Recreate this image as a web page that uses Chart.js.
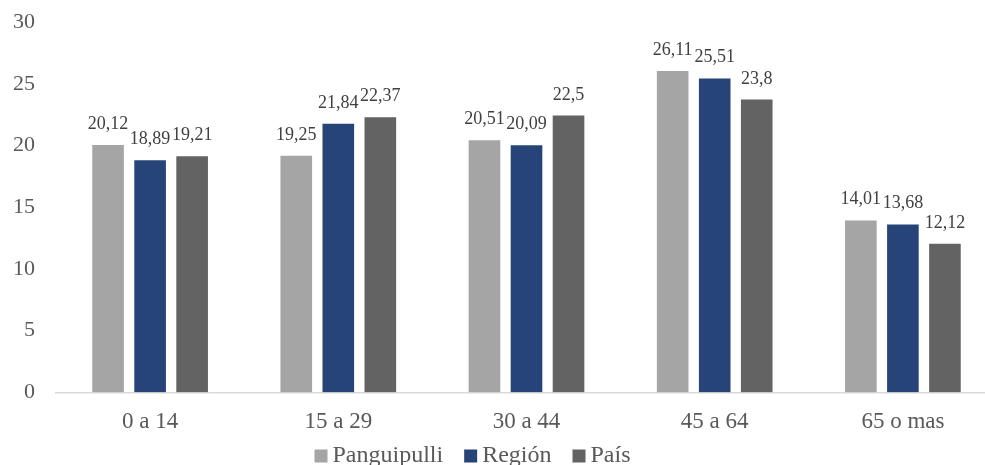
<!DOCTYPE html>
<html>
<head>
<meta charset="utf-8">
<script src="https://cdn.jsdelivr.net/npm/chart.js@4"></script>
<style>
  html, body { margin: 0; padding: 0; background: #ffffff; overflow: hidden; }
  #wrap { position: relative; width: 1000px; height: 465px; }
</style>
</head>
<body>
<div id="wrap"><canvas id="c" width="1000" height="465"></canvas></div>
<script>
// Age groups and population share (%) per territory
const categories = ['0 a 14', '15 a 29', '30 a 44', '45 a 64', '65 o mas'];
const panguipulli = [20.12, 19.25, 20.51, 26.11, 14.01];
const region = [18.89, 21.84, 20.09, 25.51, 13.68];
const pais = [19.21, 22.37, 22.5, 23.8, 12.12];
const seriesNames = ['Panguipulli', 'Región', 'País'];
const seriesColors = ['#A5A5A5', '#264478', '#636363'];
const yTicks = [0, 5, 10, 15, 20, 25, 30];

const FONT = '"Liberation Serif", "Times New Roman", serif';
const TEXT = '#595959';

// Value labels above each bar, with a decimal comma
const valueLabels = {
  id: 'valueLabels',
  afterDatasetsDraw(chart) {
    const ctx = chart.ctx;
    ctx.save();
    ctx.font = '18px ' + FONT;
    ctx.fillStyle = '#404040';
    ctx.textAlign = 'center';
    ctx.textBaseline = 'alphabetic';
    chart.data.datasets.forEach((ds, i) => {
      chart.getDatasetMeta(i).data.forEach((bar, j) => {
        const txt = String(ds.data[j]).replace('.', ',');
        ctx.fillText(txt, bar.x, bar.y - 15);
      });
    });
    ctx.restore();
  }
};

// Legend row along the bottom edge
const bottomLegend = {
  id: 'bottomLegend',
  afterDraw(chart) {
    const ctx = chart.ctx;
    ctx.save();
    ctx.font = '24px ' + FONT;
    const box = 13, boxGap = 5, itemGap = 21;
    const items = chart.data.datasets.map(ds => ({
      text: ds.label, color: ds.backgroundColor, w: ctx.measureText(ds.label).width
    }));
    const total = items.reduce((s, it) => s + box + boxGap + it.w, 0) + itemGap * (items.length - 1);
    let x = 472.5 - total / 2;
    const cy = 456;
    ctx.textBaseline = 'middle';
    ctx.textAlign = 'left';
    items.forEach(it => {
      ctx.fillStyle = it.color;
      ctx.fillRect(x, cy - box / 2, box, box);
      x += box + boxGap;
      ctx.fillStyle = TEXT;
      ctx.fillText(it.text, x, cy);
      x += it.w + itemGap;
    });
    ctx.restore();
  }
};

const dataSeries = [panguipulli, region, pais];

new Chart(document.getElementById('c'), {
  type: 'bar',
  data: {
    labels: categories,
    datasets: dataSeries.map((d, i) => ({
      label: seriesNames[i],
      data: d,
      backgroundColor: seriesColors[i],
      borderColor: 'rgba(255,255,255,0.55)',
      borderWidth: 1,
      categoryPercentage: 0.67,
      barPercentage: 0.8
    }))
  },
  options: {
    responsive: false,
    animation: false,
    devicePixelRatio: 1,
    layout: { padding: { top: 22, left: -8, right: 3, bottom: 13 } },
    plugins: { legend: { display: false }, tooltip: { enabled: false } },
    scales: {
      x: {
        grid: { display: false, drawTicks: false },
        border: { display: true, color: '#D9D9D9', width: 1.5 },
        ticks: { color: TEXT, font: { family: FONT, size: 23 }, padding: 16 }
      },
      y: {
        min: 0,
        max: 30,
        afterBuildTicks(axis) { axis.ticks = yTicks.map(v => ({ value: v })); },
        afterFit(axis) { axis.paddingTop = 0; axis.paddingBottom = 0; },
        grid: { display: false, drawTicks: false },
        border: { display: false },
        ticks: { color: TEXT, font: { family: FONT, size: 22 }, padding: 21 }
      }
    }
  },
  plugins: [valueLabels, bottomLegend]
});
</script>
</body>
</html>
